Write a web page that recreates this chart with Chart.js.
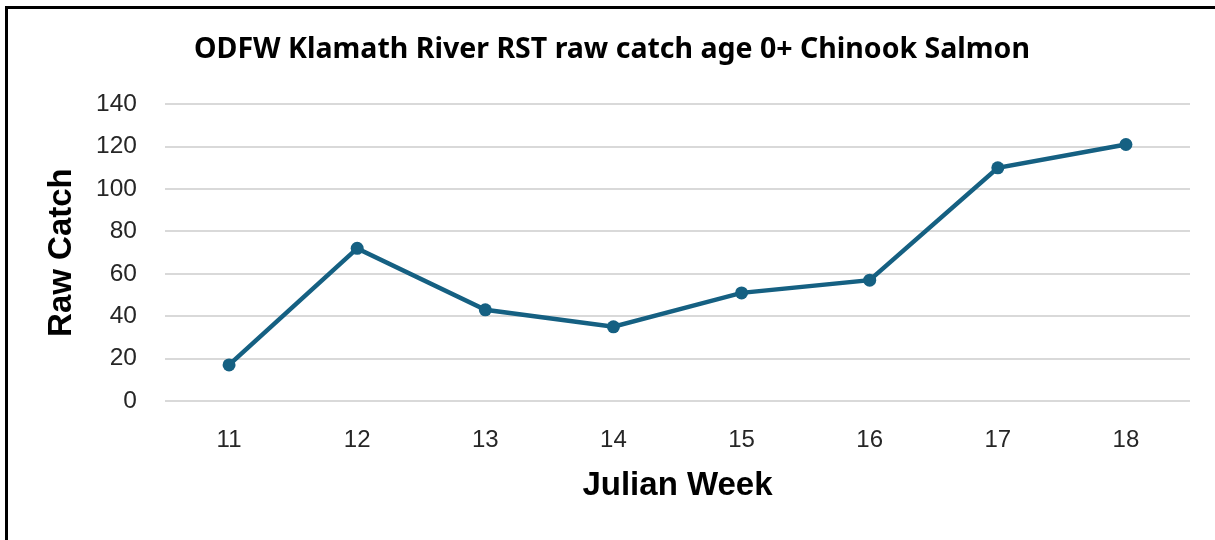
<!DOCTYPE html>
<html>
<head>
<meta charset="utf-8">
<script src="https://cdn.jsdelivr.net/npm/chart.js@4"></script>
<style>
    html, body { margin: 0; padding: 0; background: #fff; overflow: hidden; }
    #wrap { position: relative; width: 1215px; height: 540px; }
    #frame { position: absolute; left: 5px; top: 6px; width: 1300px; height: 700px; border-top: 3px solid #000; border-left: 3px solid #000; }
    #chart { position: absolute; left: 0; top: 0; }
</style>
</head>
<body>
<div id="wrap">
    <div id="frame"></div>
    <canvas id="chart" width="1215" height="540"></canvas>
</div>
<script>
// Chinook raw catch by Julian week
const weeks = ['11', '12', '13', '14', '15', '16', '17', '18'];
const rawCatch = [17, 72, 43, 35, 51, 57, 110, 121];
const yTicks = [0, 20, 40, 60, 80, 100, 120, 140];

const lineColor = '#156082';

// the title sits a little right of the page centre in the original
const titleShift = {
    id: 'titleShift',
    afterLayout(chart) {
        const t = chart.titleBlock;
        if (t) { t.left += 17; t.right += 17; }
    }
};

function renderCatchChart() {
    const ctx = document.getElementById('chart');
    if (ctx._chart) ctx._chart.destroy();
    ctx._chart = new Chart(ctx, {
        type: 'line',
        data: {
            labels: weeks,
            datasets: [{
                label: 'Raw Catch',
                data: rawCatch,
                borderColor: lineColor,
                backgroundColor: lineColor,
                borderWidth: 4.5,
                pointRadius: 6.5,
                pointBackgroundColor: lineColor,
                pointBorderWidth: 0,
                tension: 0,
                fill: false,
            }]
        },
        options: {
            responsive: false,
            animation: false,
            layout: { padding: { left: 0, right: 25, top: 0, bottom: 0 } },
            plugins: {
                legend: { display: false },
                tooltip: { enabled: false },
                title: {
                    display: true,
                    text: 'ODFW Klamath River RST raw catch age 0+ Chinook Salmon',
                    color: '#000',
                    font: { family: 'Noto Sans', size: 28.5, weight: 'bold' },
                    padding: { top: 33, bottom: 37 }
                }
            },
            scales: {
                x: {
                    offset: true,
                    grid: { display: false, drawTicks: false },
                    border: { display: false },
                    ticks: { color: '#262626', font: { family: 'Liberation Sans', size: 24 }, padding: 25 },
                    title: { display: true, text: 'Julian Week', color: '#000', font: { family: 'Liberation Sans', size: 33, weight: 'bold' }, padding: { top: 0, bottom: 34 } },
                    afterFit: s => { s.height = 139; }
                },
                y: {
                    min: 0,
                    max: 140,
                    afterBuildTicks: s => { s.ticks = yTicks.map(v => ({ value: v })); },
                    grid: { color: '#d9d9d9', lineWidth: 2, drawTicks: false },
                    border: { display: false },
                    ticks: { color: '#262626', font: { family: 'Liberation Sans', size: 24.5 }, padding: 28 },
                    title: { display: true, text: 'Raw Catch', color: '#000', font: { family: 'Liberation Sans', size: 33, weight: 'bold' }, padding: { top: 42, bottom: 0 } },
                    afterFit: s => { s.width = 165; }
                }
            }
        },
        plugins: [titleShift]
    });
}

renderCatchChart();
</script>
</body>
</html>
